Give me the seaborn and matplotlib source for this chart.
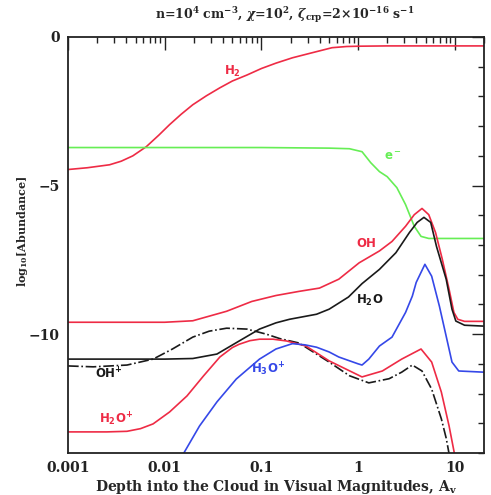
import numpy as np
import pandas as pd
import matplotlib
matplotlib.use("Agg")
import matplotlib.pyplot as plt
from matplotlib.ticker import LogLocator, FixedLocator, MultipleLocator, NullFormatter, FixedFormatter
import seaborn as sns

# ---- data (log10 Av, log10 abundance) ----
h2_logav = [-3, -2.8, -2.57, -2.45, -2.33, -2.19, -2.06, -1.95, -1.83, -1.71, -1.57, -1.43, -1.3, -1.15, -1.0, -0.85, -0.68, -0.5, -0.27, -0.12, 0, 0.3, 0.6, 0.9, 1.3]
h2_ab = [-4.46, -4.4, -4.3, -4.18, -4.0, -3.69, -3.3, -2.95, -2.6, -2.28, -1.98, -1.71, -1.48, -1.28, -1.06, -0.88, -0.7, -0.55, -0.36, -0.32, -0.31, -0.3, -0.3, -0.3, -0.3]

e_logav = [-3, -1, -0.3, -0.09, 0.04, 0.13, 0.22, 0.30, 0.40, 0.49, 0.58, 0.65, 0.73, 1.0, 1.3]
e_ab = [-3.72, -3.72, -3.74, -3.76, -3.86, -4.23, -4.53, -4.70, -5.07, -5.64, -6.37, -6.71, -6.78, -6.78, -6.78]

oh_logav = [-3, -2, -1.71, -1.36, -1.1, -0.85, -0.61, -0.4, -0.2, 0.01, 0.22, 0.35, 0.49, 0.58, 0.66, 0.73, 0.80, 0.87, 0.94, 0.99, 1.03, 1.1, 1.3]
oh_ab = [-9.6, -9.6, -9.55, -9.23, -8.9, -8.7, -8.56, -8.45, -8.15, -7.6, -7.2, -6.88, -6.37, -5.98, -5.77, -5.98, -6.58, -7.48, -8.49, -9.27, -9.5, -9.57, -9.57]

h2o_logav = [-3, -2, -1.71, -1.46, -1.23, -1.02, -0.85, -0.71, -0.43, -0.3, -0.1, 0.04, 0.22, 0.39, 0.53, 0.61, 0.68, 0.75, 0.81, 0.91, 0.97, 1.01, 1.1, 1.3]
h2o_ab = [-10.84, -10.84, -10.82, -10.67, -10.23, -9.83, -9.62, -9.5, -9.33, -9.16, -8.75, -8.3, -7.82, -7.26, -6.58, -6.24, -6.07, -6.24, -7.05, -8.15, -9.16, -9.56, -9.7, -9.73]

ohp_logav = [-3, -2.74, -2.39, -2.12, -1.92, -1.71, -1.54, -1.36, -1.15, -0.95, -0.81, -0.61, -0.3, -0.09, 0.11, 0.32, 0.45, 0.56, 0.66, 0.76, 0.86, 0.91, 0.95]
ohp_ab = [-11.07, -11.1, -11.04, -10.84, -10.5, -10.1, -9.9, -9.8, -9.83, -10.0, -10.15, -10.3, -10.94, -11.4, -11.64, -11.5, -11.28, -11.04, -11.24, -11.85, -12.85, -13.5, -14.2]

h2op_logav = [-3, -2.6, -2.39, -2.25, -2.12, -1.95, -1.77, -1.6, -1.43, -1.3, -1.23, -1.12, -1.02, -0.88, -0.74, -0.54, -0.3, 0.04, 0.25, 0.45, 0.65, 0.76, 0.86, 0.94, 1.0]
h2op_ab = [-13.29, -13.29, -13.27, -13.18, -13.02, -12.62, -12.08, -11.41, -10.77, -10.45, -10.34, -10.22, -10.17, -10.17, -10.23, -10.4, -10.9, -11.44, -11.24, -10.84, -10.5, -10.94, -11.95, -13.09, -14.1]

h3op_logav = [-1.82, -1.64, -1.46, -1.26, -1.02, -0.85, -0.68, -0.55, -0.43, -0.3, -0.2, 0.0, 0.04, 0.11, 0.22, 0.35, 0.49, 0.56, 0.6, 0.69, 0.76, 0.84, 0.91, 0.97, 1.04, 1.3]
h3op_ab = [-14.1, -13.09, -12.28, -11.51, -10.84, -10.5, -10.32, -10.36, -10.44, -10.6, -10.77, -11.0, -11.04, -10.84, -10.4, -10.1, -9.27, -8.72, -8.26, -7.65, -8.05, -9.06, -10.07, -10.94, -11.24, -11.28]

x_tick_values = [0.001, 0.01, 0.1, 1, 10]
x_tick_labels = ["0.001", "0.01", "0.1", "1", "10"]
y_tick_values = [-10, -5, 0]
y_tick_labels = ["\u221210", "\u22125", "0"]

RED = "#ee2b45"
GREEN = "#66ee55"
BLUE = "#3548e8"
BLACK = "#1a1a1a"

series = [
    ("H2", h2_logav, h2_ab, RED, "-"),
    ("e-", e_logav, e_ab, GREEN, "-"),
    ("OH", oh_logav, oh_ab, RED, "-"),
    ("H2O", h2o_logav, h2o_ab, BLACK, "-"),
    ("OH+", ohp_logav, ohp_ab, BLACK, "-."),
    ("H2O+", h2op_logav, h2op_ab, RED, "-"),
    ("H3O+", h3op_logav, h3op_ab, BLUE, "-"),
]

sns.set_style("white")
plt.rcParams["font.family"] = ["DejaVu Serif"]
plt.rcParams["font.weight"] = "bold"
plt.rcParams["mathtext.fontset"] = "dejavuserif"

fig = plt.figure(figsize=(4.91, 4.95), dpi=100)
ax = fig.add_axes([68 / 491, 1 - 453 / 495, (484 - 68) / 491, (453 - 37) / 495])

for name, lx, ab, col, ls in series:
    df = pd.DataFrame({"Av": 10 ** np.array(lx, dtype=float), "ab": ab})
    sns.lineplot(data=df, x="Av", y="ab", ax=ax, color=col, linestyle=ls, linewidth=1.2, estimator=None, sort=False)

ax.set_xscale("log")
ax.set_xlim(0.001, 20)
ax.set_ylim(-14, 0)

ax.xaxis.set_major_locator(FixedLocator(x_tick_values))
ax.xaxis.set_major_formatter(FixedFormatter(x_tick_labels))
ax.xaxis.set_minor_locator(LogLocator(base=10, subs=np.arange(2, 10)))
ax.xaxis.set_minor_formatter(NullFormatter())
ax.yaxis.set_major_locator(FixedLocator(y_tick_values))
ax.yaxis.set_major_formatter(FixedFormatter(y_tick_labels))
ax.yaxis.set_minor_locator(MultipleLocator(1))

ax.tick_params(which="both", direction="in", top=True, right=True, width=1.0, colors="#222222")
ax.tick_params(which="major", length=9, labelsize=10, pad=6)
ax.tick_params(which="minor", length=4.5)
for s in ax.spines.values():
    s.set_linewidth(1.3)
    s.set_color("#222222")

ax.set_xlabel(r"Depth into the Cloud in Visual Magnitudes, A$_\mathbf{v}$", fontsize=10, fontweight="bold", labelpad=2)
ax.set_ylabel(r"log$_{\mathbf{10}}$[Abundance]", fontsize=8, fontweight="bold")
ax.yaxis.set_label_coords(-0.091, 0.534)

fig.text(285 / 491, 1 - 15 / 495,
         r"n=10$^{\mathbf{4}}$ cm$^{\mathbf{-3}}$, $\chi$=10$^{\mathbf{2}}$, $\zeta_{\mathbf{crp}}$=2$\times$10$^{\mathbf{-16}}$ s$^{\mathbf{-1}}$",
         ha="center", va="center", fontsize=9, fontweight="bold")

def lab(txt, logx, y, col):
    ax.text(10 ** logx, y, txt, color=col, fontsize=8.5, fontweight="bold", ha="center", va="center",
            family="DejaVu Sans", math_fontfamily="dejavusans")

lab(r"H$_\mathbf{2}$", -1.30, -1.15, RED)
lab(r"e$^-$", 0.36, -4.03, GREEN)
lab("OH", 0.08, -6.95, RED)
lab(r"H$_\mathbf{2}$O", 0.12, -8.85, BLACK)
lab(r"OH$^\mathbf{+}$", -2.58, -11.35, BLACK)
lab(r"H$_\mathbf{3}$O$^\mathbf{+}$", -0.93, -11.2, BLUE)
lab(r"H$_\mathbf{2}$O$^\mathbf{+}$", -2.5, -12.85, RED)

ax.set_facecolor("white")
fig.savefig("out.png", dpi=100, facecolor="white")
